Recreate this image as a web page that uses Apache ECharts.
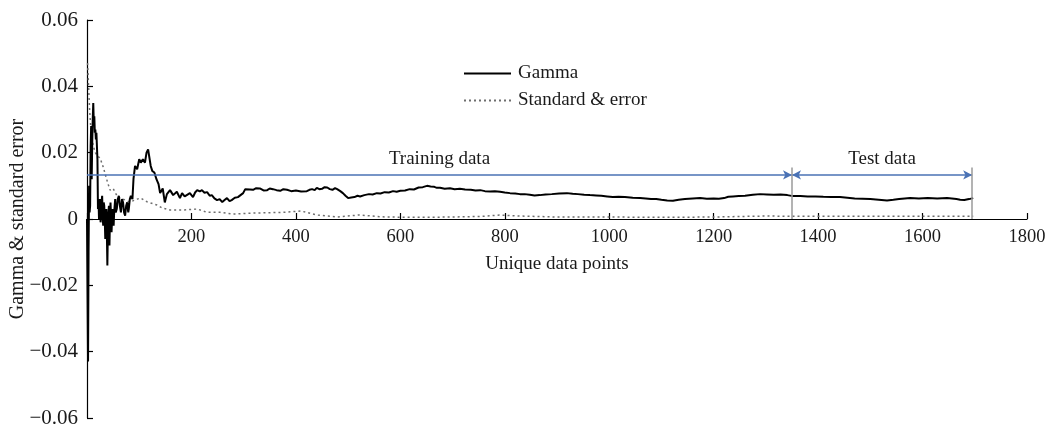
<!DOCTYPE html>
<html>
<head>
<meta charset="utf-8">
<script src="https://cdn.jsdelivr.net/npm/echarts@6/dist/echarts.min.js"></script>
<style>
  html, body { margin: 0; padding: 0; background: #fff; }
  #chart { width: 1048px; height: 427px; }
</style>
</head>
<body>
<div id="chart"></div>
<script>
// Running gamma statistic against number of unique data points: [points, value]
const gammaData = [
  [0, 0.000], [2, -0.043], [3, -0.010], [4, 0.010], [5, 0.002], [6, 0.004], [7, 0.022], [8, 0.028], [9, 0.012], [10, 0.023],
  [11, 0.030], [12, 0.035], [13, 0.029], [14, 0.031], [15, 0.026], [16, 0.027], [17, 0.024], [18, 0.026], [20, 0.018], [21, 0.003],
  [22, 0.006], [23, 0.000], [24, 0.004], [25, 0.006], [26, -0.001], [27, 0.001], [28, 0.005], [29, 0.007], [30, 0.001], [31, -0.002], [32, 0.005], [33, 0.004],
  [34, 0.000], [35, -0.006], [36, 0.002], [37, 0.003], [38, -0.004], [39, -0.014], [40, -0.003], [41, 0.002], [42, 0.004], [43, -0.008], [44, 0.000], [45, 0.005],
  [46, 0.001], [47, -0.004], [48, 0.000], [49, 0.003], [50, 0.001], [51, -0.002], [52, 0.002], [54, 0.006], [55, 0.002], [57, 0.003], [59, 0.006], [61, 0.007],
  [63, 0.004], [65, 0.002], [67, 0.006], [69, 0.005], [71, 0.002], [73, 0.001], [75, 0.004], [77, 0.005], [79, 0.002], [80, 0.003], [82, 0.006], [84, 0.007],
  [87, 0.006], [89, 0.012], [92, 0.016], [96, 0.015], [100, 0.018], [103, 0.017],
  [107, 0.018], [111, 0.017], [114, 0.020], [117, 0.021], [119, 0.019], [122, 0.016],
  [125, 0.0145], [129, 0.014], [133, 0.012], [137, 0.0105], [140, 0.0078], [145, 0.0092],
  [149, 0.0050], [153, 0.0075], [159, 0.0087], [165, 0.0072], [172, 0.0082], [178, 0.0063],
  [182, 0.0078], [187, 0.0068], [191, 0.0072], [197, 0.0078], [203, 0.0066], [207, 0.0080],
  [211, 0.0087], [216, 0.0083], [220, 0.0087], [225, 0.0079], [230, 0.0081], [235, 0.0070],
  [239, 0.0072], [244, 0.0062], [249, 0.0057], [254, 0.0060], [259, 0.0051], [264, 0.0058],
  [268, 0.0063], [273, 0.0054], [277, 0.0057], [283, 0.0064], [289, 0.0066], [294, 0.0072],
  [299, 0.0078], [303, 0.0090], [306, 0.0094], [312, 0.0089], [318, 0.0088], [324, 0.0093],
  [331, 0.0092], [338, 0.0086], [345, 0.0087], [350, 0.0092], [356, 0.0090], [363, 0.0087],
  [370, 0.0085], [376, 0.0090], [383, 0.0088], [391, 0.0084], [400, 0.0086], [410, 0.0083],
  [421, 0.0084], [426, 0.0088], [431, 0.0090], [436, 0.0087], [440, 0.0094], [445, 0.0090],
  [450, 0.0091], [455, 0.0096], [460, 0.0095], [465, 0.0090], [470, 0.0088], [475, 0.0093],
  [479, 0.0090], [485, 0.0084], [490, 0.0078], [495, 0.0070], [500, 0.0063], [506, 0.0065],
  [512, 0.0066], [518, 0.0070], [523, 0.0068], [531, 0.0072], [540, 0.0075], [547, 0.0074],
  [555, 0.0078], [562, 0.0077], [570, 0.0081], [578, 0.0080], [586, 0.0084], [593, 0.0082],
  [600, 0.0085], [609, 0.0086], [618, 0.0090], [626, 0.0089], [635, 0.0095], [643, 0.0096],
  [651, 0.0100], [658, 0.0098], [665, 0.0097], [670, 0.0094], [676, 0.0094], [685, 0.0091],
  [695, 0.0093], [704, 0.0090], [714, 0.0091], [724, 0.0089], [735, 0.0088], [744, 0.0086],
  [753, 0.0087], [762, 0.0084], [772, 0.0083], [781, 0.0084], [791, 0.0082], [800, 0.0080],
  [810, 0.0078], [820, 0.0077], [829, 0.0075], [838, 0.0075], [848, 0.0073], [857, 0.0071],
  [867, 0.0072], [878, 0.0074], [890, 0.0075], [904, 0.0077], [919, 0.0078], [930, 0.0076],
  [940, 0.0075], [952, 0.0073], [963, 0.0072], [975, 0.0071], [985, 0.0070], [996, 0.0068],
  [1007, 0.0066], [1018, 0.0067], [1030, 0.0066], [1045, 0.0064], [1059, 0.0063], [1070, 0.0062],
  [1080, 0.0060], [1090, 0.0060], [1100, 0.0058], [1111, 0.0056], [1122, 0.0055], [1133, 0.0058],
  [1145, 0.0060], [1160, 0.0062], [1174, 0.0063], [1187, 0.0061], [1200, 0.0062], [1210, 0.0061],
  [1220, 0.0063], [1228, 0.0067], [1237, 0.0068], [1248, 0.0069], [1260, 0.0070], [1275, 0.0073],
  [1289, 0.0075], [1302, 0.0074], [1315, 0.0073], [1328, 0.0074], [1341, 0.0072], [1352, 0.0069],
  [1366, 0.0069], [1380, 0.0068], [1395, 0.0068], [1410, 0.0067], [1426, 0.0066], [1442, 0.0066],
  [1456, 0.0064], [1470, 0.0062], [1485, 0.0061], [1500, 0.0060], [1516, 0.0058], [1532, 0.0056],
  [1544, 0.0058], [1555, 0.0060], [1566, 0.0062], [1576, 0.0063], [1593, 0.0062], [1610, 0.0063],
  [1628, 0.0062], [1647, 0.0063], [1656, 0.0062], [1665, 0.0060], [1672, 0.0058], [1680, 0.0057],
  [1689, 0.0060], [1697, 0.0063]
];

// Standard error of the gamma estimate: [points, value]
const stdErrData = [
  [1, 0.047], [2, 0.044], [3, 0.040], [5, 0.033], [7, 0.028], [9, 0.025],
  [12, 0.022], [16, 0.020], [20, 0.019], [25, 0.0184], [31, 0.0157], [38, 0.0118],
  [44, 0.0087], [50, 0.0092], [54, 0.0080], [59, 0.0066], [69, 0.0060], [82, 0.0051],
  [96, 0.0060], [103, 0.0063], [115, 0.0052], [134, 0.0042], [144, 0.0033], [159, 0.0027],
  [184, 0.0027], [211, 0.0030], [230, 0.0020], [255, 0.0020], [280, 0.0015], [320, 0.0018],
  [375, 0.0020], [410, 0.0024], [440, 0.0012], [480, 0.0006], [520, 0.0012], [570, 0.0006],
  [630, 0.0005], [700, 0.0006], [760, 0.0008], [790, 0.0012], [830, 0.0009], [900, 0.0006],
  [1000, 0.0006], [1100, 0.0005], [1200, 0.0006], [1300, 0.0009], [1350, 0.0008], [1450, 0.0008],
  [1550, 0.0008], [1650, 0.0008], [1697, 0.0008]
];

// Data split: training and test ranges, and where the range arrows sit
const trainStart = 0;
const trainEnd = 1350;
const testEnd = 1695;
const arrowLevel = 0.0133;
const dividerTop = 0.0155;

const seriesNames = ['Gamma', 'Standard & error'];
const rangeLabels = ['Training data', 'Test data'];

const FONT = '"Liberation Serif", "DejaVu Serif", serif';
const TEXT = '#1a1a1a';
const ARROW = '#4a72b5';
const DIVIDER = '#9a9a9a';

// The x axis is drawn through y = 0; its labels and name sit just under that line,
// so they are pulled up from the bottom edge of the grid by the gap below zero.
const GRID_TOP = 20;
const GRID_BOTTOM = 9;
const CHART_H = 427;
const plotH = CHART_H - GRID_TOP - GRID_BOTTOM;
const zeroLift = plotH / 2;

const chart = echarts.init(document.getElementById('chart'), null, { renderer: 'canvas' });

const arrowLine = { color: ARROW, width: 1.5, type: 'solid' };
const rangeLabel = (text) => ({
  show: true, formatter: text, position: 'insideMiddleTop', distance: 6,
  color: TEXT, fontFamily: FONT, fontSize: 19
});

chart.setOption({
  animation: false,
  backgroundColor: '#fff',
  grid: { left: 87, right: 21, top: GRID_TOP, bottom: GRID_BOTTOM, containLabel: false, outerBoundsMode: 'none' },
  legend: {
    orient: 'vertical',
    left: 458, top: 59,
    itemWidth: 47, itemHeight: 14, itemGap: 8,
    itemStyle: { opacity: 0 },
    textStyle: { fontFamily: FONT, fontSize: 19, color: TEXT, padding: [0, 0, 0, 2] },
    data: seriesNames
  },
  xAxis: {
    type: 'value',
    min: 0, max: 1800, interval: 200,
    name: 'Unique data points',
    nameLocation: 'middle', nameGap: 36 - zeroLift,
    nameMoveOverlap: false,
    nameTextStyle: { fontFamily: FONT, fontSize: 19, color: TEXT },
    axisLine: { onZero: true, lineStyle: { color: '#000', width: 1.2 } },
    axisTick: { inside: true, length: 6, lineStyle: { color: '#000', width: 1.2 } },
    axisLabel: {
      fontFamily: FONT, fontSize: 18.5, color: TEXT, margin: 9 - zeroLift,
      formatter: (v) => (v === 0 ? '' : String(v))
    },
    splitLine: { show: false }
  },
  yAxis: {
    type: 'value',
    min: -0.06, max: 0.06, interval: 0.02,
    name: 'Gamma & standard error',
    nameLocation: 'middle', nameGap: 59, nameRotate: 90,
    nameMoveOverlap: false,
    nameTextStyle: { fontFamily: FONT, fontSize: 20, color: TEXT },
    axisLine: { onZero: false, lineStyle: { color: '#000', width: 1.2 } },
    axisTick: { inside: true, length: 6, lineStyle: { color: '#000', width: 1.2 } },
    axisLabel: {
      fontFamily: FONT, fontSize: 21, color: TEXT, margin: 9,
      formatter: (v) => {
        const r = Math.round(v * 100) / 100;
        if (r === 0) return '0';
        return r.toFixed(2).replace('-', '\u2212');
      }
    },
    splitLine: { show: false }
  },
  series: [
    {
      name: seriesNames[0],
      type: 'line',
      data: gammaData,
      showSymbol: false, symbol: 'none',
      lineStyle: { color: '#000', width: 2 },
      itemStyle: { color: '#000' },
      z: 3,
      markLine: {
        silent: true,
        animation: false,
        symbolSize: [7, 9],
        data: [
          [
            { coord: [trainStart, arrowLevel], symbol: 'none', lineStyle: arrowLine, label: rangeLabel(rangeLabels[0]) },
            { coord: [trainEnd, arrowLevel], symbol: 'arrow' }
          ],
          [
            { coord: [trainEnd, arrowLevel], symbol: 'arrow', lineStyle: arrowLine, label: rangeLabel(rangeLabels[1]) },
            { coord: [testEnd, arrowLevel], symbol: 'arrow' }
          ],
          [
            { coord: [trainEnd, dividerTop], symbol: 'none', lineStyle: { color: DIVIDER, width: 1.5, type: 'solid' }, label: { show: false } },
            { coord: [trainEnd, 0], symbol: 'none' }
          ],
          [
            { coord: [testEnd, dividerTop], symbol: 'none', lineStyle: { color: DIVIDER, width: 1.5, type: 'solid' }, label: { show: false } },
            { coord: [testEnd, 0], symbol: 'none' }
          ]
        ]
      }
    },
    {
      name: seriesNames[1],
      type: 'line',
      data: stdErrData,
      showSymbol: false, symbol: 'none',
      lineStyle: { color: '#6e6e6e', width: 1.5, type: [2, 3] },
      itemStyle: { color: '#6e6e6e' },
      z: 2
    }
  ]
});
</script>
</body>
</html>
